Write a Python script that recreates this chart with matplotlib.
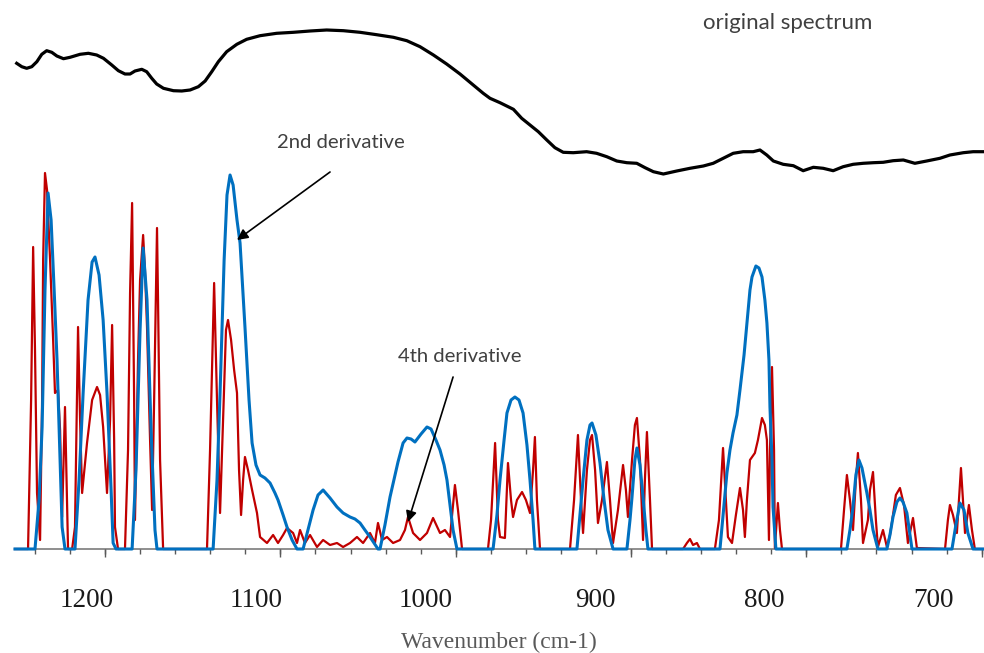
import numpy as np
import matplotlib.pyplot as plt

# original spectrum (black), wavenumber vs offset intensity
orig_wn = [1241.2, 1238.2, 1235.3, 1232.3, 1229.3, 1226.4, 1223.5, 1220.5, 1217.5, 1213.6,
           1209.7, 1203.8, 1198.9, 1194.0, 1190.0, 1185.1, 1181.2, 1177.3, 1174.3, 1171.4,
           1167.4, 1164.5, 1161.5, 1158.6, 1154.6, 1148.7, 1143.8, 1138.9, 1134.0, 1130.0,
           1126.1, 1122.2, 1117.3, 1111.3, 1105.5, 1097.6, 1087.8, 1077.9, 1068.1, 1058.3,
           1048.4, 1038.6, 1028.8, 1018.9, 1011.0, 1003.2, 995.3, 987.5, 979.6, 971.8,
           965.9, 961.9, 956.0, 948.1, 943.2, 938.3, 933.4, 928.4, 923.6, 918.7,
           912.8, 904.9, 899.0, 893.0, 887.1, 881.2, 875.3, 870.4, 865.5, 859.6,
           851.7, 843.9, 836.0, 830.2, 824.3, 818.4, 812.5, 806.6, 802.6, 798.6,
           794.7, 788.9, 782.9, 777.1, 771.1, 765.3, 759.4, 753.5, 747.6, 741.7,
           735.7, 729.9, 724.0, 718.0, 711.2, 704.2, 696.4, 690.5, 682.6, 676.8,
           670.4]
orig_val = [485.7, 482.3, 480.7, 482.3, 487.3, 494.7, 498.3, 496.7, 493.0, 490.3,
            491.7, 494.7, 495.7, 494.0, 490.7, 484.0, 478.3, 475.0, 475.0, 478.0,
            479.7, 477.3, 470.7, 465.0, 460.7, 458.3, 458.0, 459.0, 462.3, 468.0,
            477.3, 487.3, 497.3, 504.7, 509.7, 513.3, 515.7, 516.7, 518.0, 519.0,
            518.3, 516.7, 514.3, 511.7, 508.3, 502.3, 494.0, 485.0, 475.0, 464.0,
            455.7, 450.7, 446.3, 439.7, 430.7, 424.0, 417.3, 409.0, 401.3, 396.7,
            396.3, 397.3, 395.7, 392.3, 388.0, 386.3, 385.7, 381.3, 377.3, 375.0,
            378.0, 380.7, 383.0, 385.7, 390.7, 395.7, 397.3, 397.3, 399.0, 394.0,
            388.0, 384.7, 383.3, 378.3, 381.7, 380.7, 378.3, 382.3, 384.7, 385.7,
            386.3, 386.7, 388.3, 389.0, 385.7, 388.0, 390.7, 394.0, 396.3, 397.3,
            397.3]

# 2nd derivative (blue)
d2_wn = [1242.2,
         1230.4, 1228.0, 1226.2, 1224.5, 1222.7, 1220.9, 1219.1, 1217.4, 1215.6, 1214.4, 1212.7,
         1206.8, 1204.4, 1202.0, 1199.1, 1196.7, 1195.0, 1192.6, 1190.2, 1187.9, 1185.5, 1184.3, 1182.6,
         1173.1, 1170.8, 1168.4, 1166.6, 1164.3, 1161.9, 1159.6, 1158.4,
         1125.3, 1123.0, 1121.2, 1118.8, 1117.1, 1115.3, 1113.5, 1111.2, 1109.4, 1106.5, 1104.1,
         1102.3, 1100.0, 1097.6, 1094.7, 1091.7, 1088.8, 1087.0, 1084.0, 1081.7, 1078.7, 1075.8,
         1072.2, 1069.3, 1066.3, 1063.4, 1060.4, 1056.3, 1052.2, 1048.6, 1044.5, 1041.6, 1038.6,
         1035.7, 1032.7, 1028.0,
         1026.8, 1023.9, 1020.9, 1016.2, 1013.2, 1010.9, 1008.5, 1006.2, 1002.6, 999.1, 996.7,
         993.8, 991.4, 989.0, 987.3, 985.5, 983.7, 981.4,
         960.1, 957.8, 956.0, 953.6, 951.9, 949.5, 947.2, 944.8, 942.4, 940.1, 938.3, 936.5, 935.4,
         910.6, 908.8, 907.0, 904.7, 902.9, 901.7, 899.4, 897.0, 894.6, 892.3, 889.3,
         881.1, 879.3, 878.1, 876.4, 875.2, 873.4, 871.6, 869.9, 868.7,
         826.2, 823.8, 822.1, 820.3, 818.5, 816.2, 814.4, 812.0, 810.3, 808.5, 807.3, 805.0,
         803.2, 801.4, 799.7, 798.5, 797.3, 796.7, 795.5, 794.9, 793.2,
         751.3, 749.5, 747.7, 746.0, 744.2, 742.4, 739.5, 737.7, 735.9, 733.0,
         727.7, 725.9, 724.1, 721.8, 720.0, 718.2, 715.9, 714.1, 712.9,
         689.3, 687.0, 684.6, 682.2, 679.9, 676.9,
         670.4]
d2_val = [0,
          0, 49, 122, 259, 356, 329, 259, 189, 89, 22, 0,
          0, 69, 156, 249, 287, 292, 274, 229, 156, 59, 6, 0,
          0, 79, 219, 301, 249, 119, 19, 0,
          0, 69, 156, 289, 354, 374, 364, 329, 306, 222, 149,
          106, 84, 74, 71, 66, 56, 49, 34, 22, 9, 0,
          0, 19, 39, 54, 59, 51, 42, 36, 32, 30, 26,
          19, 12, 0,
          0, 24, 52, 87, 106, 111, 110, 107, 115, 122, 120,
          109, 99, 84, 69, 44, 19, 0,
          0, 34, 69, 109, 136, 149, 152, 149, 136, 104, 69, 29, 0,
          0, 34, 69, 109, 124, 126, 114, 86, 49, 19, 0,
          0, 29, 52, 89, 101, 84, 52, 19, 0,
          0, 44, 76, 99, 116, 134, 159, 194, 226, 259, 272, 283,
          281, 272, 249, 226, 189, 142, 89, 42, 0,
          0, 19, 42, 74, 89, 81, 56, 39, 19, 0,
          0, 14, 32, 47, 51, 47, 36, 14, 0,
          0, 24, 46, 39, 16, 0,
          0]

# 4th derivative (red)
d4_wn = [1242.2, 1234.5, 1232.7, 1231.5, 1230.4, 1229.2, 1227.4, 1226.2, 1225.6, 1224.5,
         1223.3, 1221.5, 1219.7, 1218.6, 1216.8, 1215.6, 1214.4, 1212.7, 1210.9, 1208.5,
         1206.8, 1205.0, 1203.8, 1202.6, 1199.7, 1196.7, 1193.8, 1192.0, 1190.2, 1187.9,
         1186.1, 1184.9, 1183.7, 1183.2, 1181.4, 1177.3, 1175.5, 1174.3, 1173.1, 1171.9,
         1171.4, 1169.6, 1168.4, 1166.6, 1165.5, 1164.3, 1162.5, 1161.3, 1160.1, 1158.4,
         1157.8, 1156.6, 1154.8, 1128.9, 1127.1, 1124.7, 1123.0, 1121.2, 1119.4, 1117.7,
         1116.5, 1114.7, 1112.9, 1111.2, 1110.0, 1108.8, 1107.6, 1106.5, 1104.7, 1102.3,
         1099.4, 1097.6, 1093.5, 1089.9, 1087.0, 1084.0, 1081.7, 1078.1, 1075.8, 1074.0,
         1071.1, 1068.1, 1064.0, 1060.4, 1056.3, 1052.2, 1048.6, 1044.5, 1040.4, 1036.8,
         1032.7, 1029.8, 1028.0, 1025.6, 1022.7, 1019.1, 1015.0, 1012.1, 1010.3, 1007.3,
         1003.2, 999.1, 995.5, 991.4, 988.5, 985.5, 983.7, 982.6, 980.8, 979.6,
         978.4, 963.1, 961.3, 958.9, 957.2, 956.0, 953.1, 951.3, 949.5, 948.3,
         946.0, 943.0, 940.7, 938.3, 936.5, 935.4, 934.2, 932.4, 914.7, 912.3,
         910.0, 908.2, 907.0, 904.7, 902.9, 901.7, 899.9, 898.2, 895.8, 892.9,
         891.1, 889.3, 886.4, 883.4, 881.7, 880.5, 878.1, 876.4, 875.2, 873.4,
         871.6, 870.5, 869.3, 867.5, 866.3, 848.0, 845.7, 843.9, 842.1, 839.8,
         838.0, 829.2, 826.8, 824.4, 822.7, 821.5, 819.1, 816.8, 814.4, 812.6,
         811.5, 810.3, 808.5, 805.6, 803.8, 801.4, 799.7, 798.5, 797.3, 796.7,
         795.5, 794.3, 793.8, 792.0, 790.8, 789.6, 754.8, 753.0, 751.3, 749.5,
         747.7, 746.0, 744.8, 743.0, 741.8, 738.9, 737.7, 735.9, 734.2, 733.0,
         730.0, 727.7, 725.9, 724.7, 722.4, 720.0, 717.6, 715.3, 712.3, 710.0,
         693.4, 691.7, 690.5, 688.7, 686.4, 685.2, 684.0, 682.8, 681.6, 679.3,
         677.5, 675.8, 670.4]
d4_val = [0, 0, 149, 302, 199, 56, 9, 149, 289, 376,
          359, 289, 209, 156, 159, 119, 32, 142, 0, 0,
          22, 222, 129, 56, 106, 149, 162, 154, 122, 56,
          129, 224, 109, 22, 0, 0, 99, 256, 346, 149,
          29, 189, 269, 314, 279, 222, 109, 39, 149, 321,
          249, 89, 0, 0, 99, 266, 149, 36, 129, 219,
          229, 209, 179, 156, 79, 34, 69, 92, 79, 59,
          36, 12, 6, 14, 6, 14, 21, 16, 6, 19,
          6, 14, 2, 9, 4, 6, 2, 6, 12, 6,
          16, 6, 26, 9, 12, 6, 9, 19, 32, 16,
          9, 16, 31, 16, 19, 12, 44, 64, 39, 19,
          0, 0, 29, 106, 29, 12, 11, 86, 49, 32,
          49, 57, 49, 36, 79, 112, 49, 0, 0, 49,
          114, 49, 16, 79, 109, 114, 79, 26, 49, 87,
          49, 6, 39, 84, 59, 32, 89, 124, 131, 89,
          9, 69, 117, 49, 0, 0, 6, 10, 4, 6,
          0, 0, 29, 101, 49, 12, 6, 34, 61, 39,
          12, 49, 89, 96, 109, 131, 124, 109, 9, 99,
          182, 99, 1, 46, 19, 0, 0, 39, 74, 49,
          19, 69, 96, 49, 6, 29, 59, 77, 29, 2,
          19, 2, 14, 27, 54, 61, 44, 6, 31, 1,
          0, 29, 44, 34, 16, 49, 81, 49, 16, 44,
          19, 0, 0]

tick_labels = ["1200", "1100", "1000", "900", "800", "700"]
tick_pos = [1200, 1100, 1000, 900, 800, 700]

fig = plt.figure(figsize=(9.84, 6.53), dpi=100)
ax = fig.add_axes([15 / 984, 104 / 653, 969 / 984, 549 / 653])

ax.plot(d4_wn, d4_val, color="#C00000", lw=1.6, clip_on=False, solid_joinstyle="round")
ax.plot(d2_wn, d2_val, color="#0070C0", lw=2.2, clip_on=False, solid_joinstyle="round")
ax.plot(orig_wn, orig_val, color="black", lw=2.3, clip_on=False, solid_joinstyle="round")

ax.set_xlim(1242.2, 670.4)
ax.set_ylim(0, 549)

for s in ["top", "right", "left"]:
    ax.spines[s].set_visible(False)
ax.spines["bottom"].set_color("#868686")
ax.spines["bottom"].set_linewidth(1.3)
ax.spines["bottom"].set_zorder(0)
ax.set_yticks([])

ax.set_xticks(tick_pos, tick_labels, fontsize=19.5, family="Liberation Serif", color="#1a1a1a")
ax.tick_params(axis="x", which="major", length=0, pad=28)
minor = np.linspace(1230.4, 1230.4 - 20.69 * 27, 28)
ax.set_xticks(minor, minor=True)
ax.tick_params(axis="x", which="minor", length=3.5, width=1, color="#595959", direction="out")
sec = ax.secondary_xaxis("bottom")
sec.set_xticks(minor[2::5], [""] * len(minor[2::5]))
sec.tick_params(length=5.5, width=1, color="#595959")
sec.spines["bottom"].set_visible(False)

fig.text(499 / 984, 1 - 642 / 653, "Wavenumber (cm-1)", ha="center", va="center",
         fontsize=17, family="Liberation Serif", color="#595959")

txt = dict(family="Lato", color="#404040", ha="center", va="center")
ax.text(786.1, 526, "original spectrum", fontsize=16, **txt)
ax.text(1049.8, 406, "2nd derivative", fontsize=14.6, **txt)
ax.text(979.6, 192, "4th derivative", fontsize=14.6, **txt)

arrow = dict(arrowstyle="-|>", color="black", lw=1.2, mutation_scale=16, shrinkA=0, shrinkB=0)
ax.annotate("", xy=(1111.2, 309), xytext=(1056.3, 377), arrowprops=arrow)
ax.annotate("", xy=(1010.3, 27), xytext=(983.7, 172), arrowprops=arrow)

fig.savefig("out.png", dpi=100)
